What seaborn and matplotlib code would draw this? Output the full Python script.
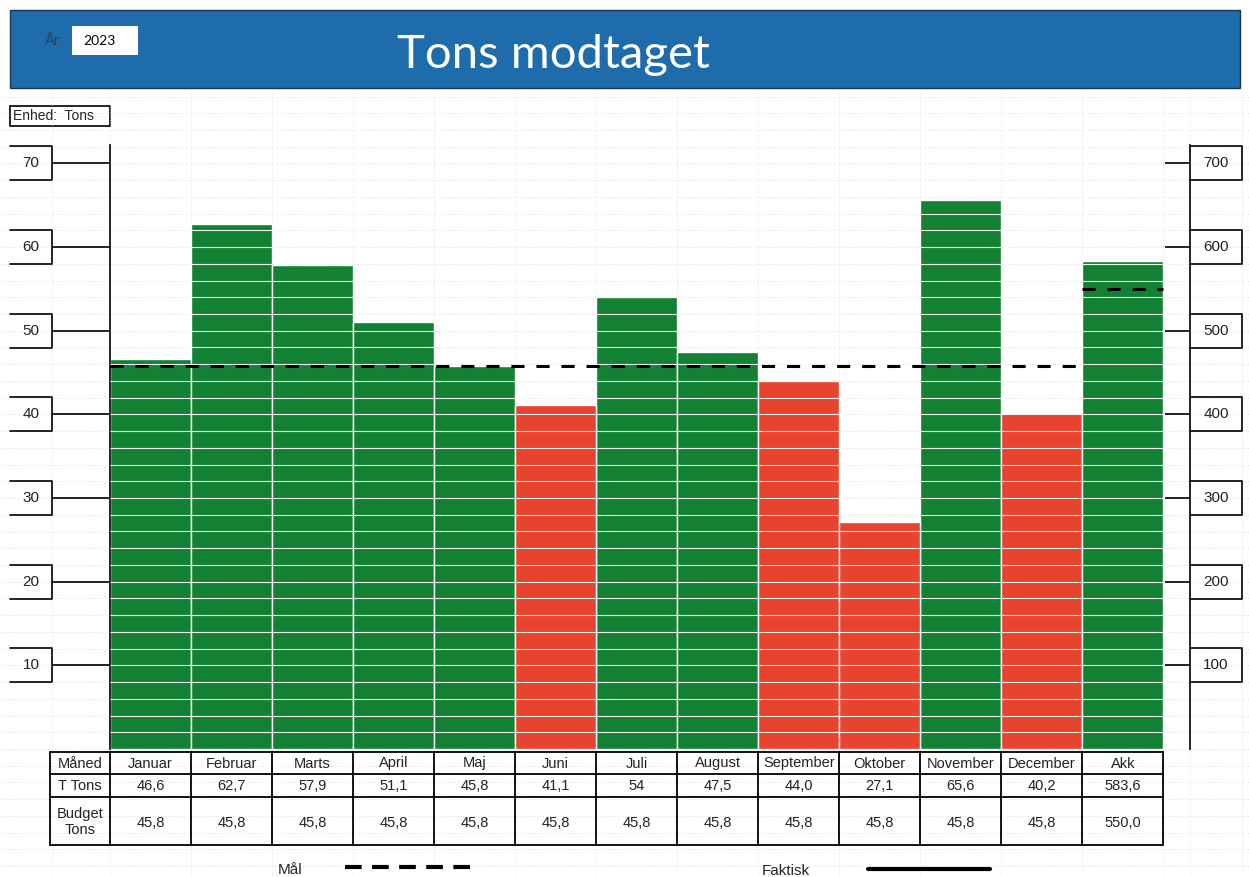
import numpy as np
import pandas as pd
import matplotlib.pyplot as plt
import matplotlib.transforms as mtransforms
from matplotlib.patches import Rectangle
import seaborn as sns

sns.set_theme(style="white")
plt.rcParams["font.family"] = ["Liberation Sans", "DejaVu Sans"]

# ---------------- data ----------------
months = ["Januar", "Februar", "Marts", "April", "Maj", "Juni", "Juli",
          "August", "September", "Oktober", "November", "December"]
t_tons = [46.6, 62.7, 57.9, 51.1, 45.8, 41.1, 54.0, 47.5, 44.0, 27.1, 65.6, 40.2]
t_tons_txt = ["46,6", "62,7", "57,9", "51,1", "45,8", "41,1", "54", "47,5",
              "44,0", "27,1", "65,6", "40,2"]
budget = [45.8, 45.8, 45.8, 45.8, 45.8, 45.8, 45.8, 45.8, 45.8, 45.8, 45.8, 45.8]
budget_txt = ["45,8"] * 12

akk_label = "Akk"
akk_value = 583.6
akk_budget = 550.0
akk_txt = "583,6"
akk_budget_txt = "550,0"

left_ticks = [10, 20, 30, 40, 50, 60, 70]
right_ticks = [100, 200, 300, 400, 500, 600, 700]

GREEN = "#128134"
RED = "#e8432f"
BLUE = "#1e6cab"

W, H = 1249, 877
fig = plt.figure(figsize=(W / 100, H / 100), dpi=100)

# =====================================
# sheet background (pixel coordinates)
# =====================================
sheet = fig.add_axes([0, 0, 1, 1], zorder=0)
sheet.set_xlim(0, W)
sheet.set_ylim(H, 0)
sheet.axis("off")

grid_kw = dict(color="#dadada", lw=0.6, ls=(0, (1, 2)))
for k in range(-39, 8):
    y = 749 + 16.73 * k
    if y > 92:
        sheet.plot([0, W], [y, y], **grid_kw)
for x in [52] + [110 + 81 * k for k in range(14)] + [1190, 1242]:
    sheet.plot([x, x], [92, H], **grid_kw)

# header band
sheet.add_patch(Rectangle((10, 10), 1230, 78, fc=BLUE, ec="#1c3550", lw=1))
sheet.text(553, 55, "Tons modtaget", color="white", fontsize=34,
           family=["Lato", "DejaVu Sans"], ha="center", va="center")
sheet.text(44, 41, "År:", color="#2b3f55", fontsize=10.5, ha="left", va="center")
sheet.add_patch(Rectangle((72, 26), 66, 29, fc="white", ec="none"))
sheet.text(83, 41, "2023", color="black", fontsize=10,
           family=["Lato", "DejaVu Sans"], ha="left", va="center")

# unit box
sheet.add_patch(Rectangle((10, 106), 100, 20, fc="white", ec="black", lw=1.2))
sheet.text(13, 116.5, "Enhed:  Tons", fontsize=10, ha="left", va="center")

# legend at the bottom
sheet.text(278, 870, "Mål", fontsize=11, ha="left", va="center")
sheet.plot([345, 478], [867, 867], color="black", lw=3, ls=(0, (4, 2.5)))
sheet.text(762, 871, "Faktisk", fontsize=11, ha="left", va="center")
sheet.plot([868, 990], [869, 869], color="black", lw=3)

# =====================================
# chart
# =====================================
def frac(x0, y0, x1, y1):
    return [x0 / W, 1 - y1 / H, (x1 - x0) / W, (y1 - y0) / H]

ax = fig.add_axes(frac(110, 145, 1190, 749), zorder=2)
ax.patch.set_alpha(0)

order = months + [akk_label]
df = pd.DataFrame({
    "Måned": months,
    "Tons": t_tons,
    "Status": ["ok" if v >= b else "under" for v, b in zip(t_tons, budget)],
})

sns.barplot(
    data=df, x="Måned", y="Tons", hue="Status", order=order,
    palette={"ok": GREEN, "under": RED}, dodge=False, legend=False,
    width=1.0, saturation=1, edgecolor="white", linewidth=1, ax=ax
)

ax2 = ax.twinx()
sns.barplot(
    x=[akk_label], y=[akk_value], order=order,
    color=GREEN if akk_value >= akk_budget else RED,
    width=1.0, saturation=1, edgecolor="white", linewidth=1, ax=ax2
)

y_max = 72.2
ax.set_ylim(0, y_max)
ax2.set_ylim(0, y_max * 10)
ax.set_xlim(-0.5, 12.83)

# white cell lines over bars
for i, v in enumerate(t_tons):
    ax.hlines(np.arange(2, v, 2), i - 0.5, i + 0.5, color="#f2f2f2", lw=0.8, zorder=3)
ax2.hlines(np.arange(20, akk_value, 20), 11.5, 12.5, color="#f2f2f2", lw=0.8, zorder=3)

# budget (Mål) lines
edges = np.arange(len(months) + 1) - 0.5
ax.step(edges, budget + [budget[-1]], where="post", color="black", lw=2.2,
        ls=(0, (4.3, 3.9)), zorder=4)
ax2.hlines(akk_budget, 11.5, 12.5, color="black", lw=2.2, ls=(0, (4.3, 3.9)), zorder=4)

for a in (ax, ax2):
    a.set_xlabel("")
    a.set_ylabel("")
    a.set_xticks([])
    for s in a.spines.values():
        s.set_visible(False)

ax.spines["left"].set_visible(True)
ax.spines["left"].set_color("black")
ax.spines["left"].set_linewidth(1.2)
ax2.spines["right"].set_visible(True)
ax2.spines["right"].set_color("black")
ax2.spines["right"].set_linewidth(1.2)

ax.set_yticks(left_ticks)
ax.set_yticklabels([])
ax.tick_params(axis="y", left=True, direction="out", length=42, width=1.2, color="black")
ax2.set_yticks(right_ticks)
ax2.set_yticklabels([])
ax2.tick_params(axis="y", right=True, direction="in", length=18, width=1.2, color="black")

# boxed tick labels
px_per_unit = 604 / y_max
half = 17 / px_per_unit
trL = mtransforms.blended_transform_factory(ax.transAxes, ax.transData)
xl0, xl1 = -100 / 1080, -58 / 1080
for t in left_ticks:
    ax.plot([xl0, xl1, xl1, xl0], [t + half, t + half, t - half, t - half],
            transform=trL, color="black", lw=1.2, clip_on=False)
    ax.text((xl0 + xl1) / 2, t, str(t), transform=trL, fontsize=11,
            ha="center", va="center", color="#222222")

trR = mtransforms.blended_transform_factory(ax2.transAxes, ax2.transData)
xr0, xr1 = 1.0, 1 + 52 / 1080
for t in right_ticks:
    h = half * 10
    ax2.plot([xr0, xr1, xr1, xr0], [t + h, t + h, t - h, t - h],
             transform=trR, color="black", lw=1.2, clip_on=False)
    ax2.text((xr0 + xr1) / 2, t, str(t), transform=trR, fontsize=11,
             ha="center", va="center", color="#222222")

# =====================================
# table under the chart
# =====================================
trT = mtransforms.blended_transform_factory(ax.transData, ax.transAxes)

def yf(py):
    return (749 - py) / 604

x_first = -0.5 - 60 / 81
rows = [752, 774, 797, 845]
for r in rows:
    ax.plot([x_first, 12.5], [yf(r), yf(r)], transform=trT, color="black",
            lw=1.3, clip_on=False)
for x in [x_first] + list(np.arange(len(order) + 1) - 0.5):
    ax.plot([x, x], [yf(rows[0]), yf(rows[-1])], transform=trT, color="black",
            lw=1.3, clip_on=False)

tbl_kw = dict(transform=trT, fontsize=10.5, ha="center", va="center",
              clip_on=False, color="#222222")
xc0 = (x_first - 0.5) / 2
ax.text(xc0, yf(763.5), "Måned", **tbl_kw)
ax.text(xc0, yf(786), "T Tons", **tbl_kw)
ax.text(xc0, yf(822), "Budget\nTons", linespacing=1.1, **tbl_kw)

for i, lab in enumerate(order):
    ax.text(i, yf(763.5), lab, **tbl_kw)
for i, txt in enumerate(t_tons_txt + [akk_txt]):
    ax.text(i, yf(786), txt, **tbl_kw)
for i, txt in enumerate(budget_txt + [akk_budget_txt]):
    ax.text(i, yf(823), txt, **tbl_kw)

fig.savefig("out.png", dpi=100)
